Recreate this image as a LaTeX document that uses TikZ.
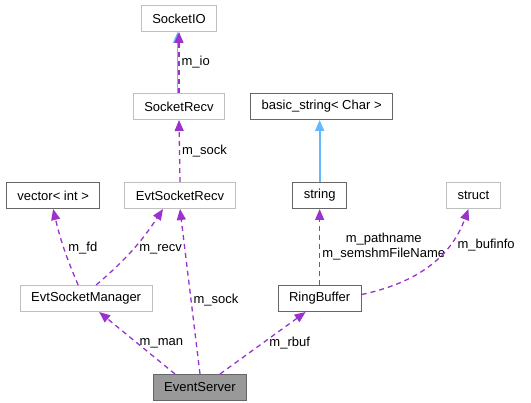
\documentclass[tikz,border=0pt]{standalone}
\usepackage{fontspec}
\setmainfont{Liberation Sans}
\usetikzlibrary{arrows.meta, positioning}
\definecolor{memberpurple}{HTML}{9A32CD}
\definecolor{inheritblue}{HTML}{63B8FF}
\definecolor{lightframe}{HTML}{BFBFBF}
\definecolor{darkframe}{HTML}{666666}
\definecolor{focusfill}{HTML}{999999}
\tikzset{
  klass/.style={rectangle, minimum height=26pt, inner xsep=11pt, inner ysep=0pt, text centered, font=\fontsize{13}{15}\selectfont, fill=white, line width=1pt},
  undoc/.style={klass, draw=lightframe},
  doc/.style={klass, draw=darkframe},
  focus/.style={klass, draw=darkframe, fill=focusfill},
  member/.style={draw=memberpurple, dash pattern=on 5pt off 4pt, line width=1.3pt, -{Triangle[length=11pt,width=9pt, fill=memberpurple]}},
  inheritarrow/.style={draw=inheritblue, line width=1.7pt, -{Triangle[length=11pt,width=9pt, fill=inheritblue]}},
  lbl/.style={font=\fontsize{13}{15}\selectfont, text=black, inner sep=2pt}
}

\begin{document}
\begin{tikzpicture}[x=1pt, y=1pt]
        \useasboundingbox (0,0) rectangle (531,-403);

        % Clases: columna de sockets
        \node (sockio) [undoc] at (179,-18.5) {SocketIO};
        \node (sockrecv) [undoc, below=61pt of sockio] {SocketRecv};
        \node (evtrecv) [undoc, below=62pt of sockrecv, xshift=1pt] {EvtSocketRecv};
        \node (vec) [doc, left=24pt of evtrecv] {vector< int >};
        \node (mgr) [undoc, below=76pt of vec, xshift=33pt] {EvtSocketManager};
        \node (server) [focus, below=165pt of evtrecv, xshift=20pt] {EventServer};

        % Clases: columna de strings
        \node (basic) [doc, right=25pt of sockrecv] {basic\_string< Char >};
        \node (strg) [doc, below=62pt of basic, xshift=-2pt] {string};
        \node (struc) [undoc, right=99pt of strg] {struct};
        \node (rbuf) [doc, below=76pt of strg] {RingBuffer};

        % Flechas
        \draw [inheritarrow] ([xshift=-1.5pt]sockrecv.north) -- ([xshift=-1.5pt]sockio.south);
        \draw [member] (sockrecv.north) -- node[lbl, right]{m\_io} (sockio.south);
        \draw [member] (evtrecv.north) -- node[lbl, right]{m\_sock} (sockrecv.south);
        \draw [inheritarrow] (strg.north) -- (strg.north |- basic.south);
        \draw [member] ([xshift=-8pt]mgr.north) to[bend left=5] node[lbl, right, xshift=2pt]{m\_fd} (vec.south);
        \draw [member] ([xshift=10pt]mgr.north) to[bend right=8] node[lbl, right, xshift=4pt]{m\_recv} ([xshift=-17pt]evtrecv.south);
        \draw [member] (server.north) -- node[lbl, right, pos=0.45]{m\_sock} (evtrecv.south);
        \draw [member] ([xshift=-25pt]server.north) -- node[lbl, right]{m\_man} ([xshift=13pt]mgr.south);
        \draw [member] ([xshift=20pt]server.north) -- node[lbl, right, xshift=4pt]{m\_rbuf} ([xshift=-14pt]rbuf.south);
        \draw [member] (rbuf.north) -- node[lbl, right, align=center, font=\fontsize{13}{15}\selectfont]{m\_pathname\\m\_semshmFileName} (rbuf.north |- strg.south);
        \draw [member] ([yshift=4pt]rbuf.east) to[out=12, in=-110] node[lbl, right, pos=0.72, xshift=6pt]{m\_bufinfo} ([xshift=-5pt]struc.south);
\end{tikzpicture}
\end{document}
